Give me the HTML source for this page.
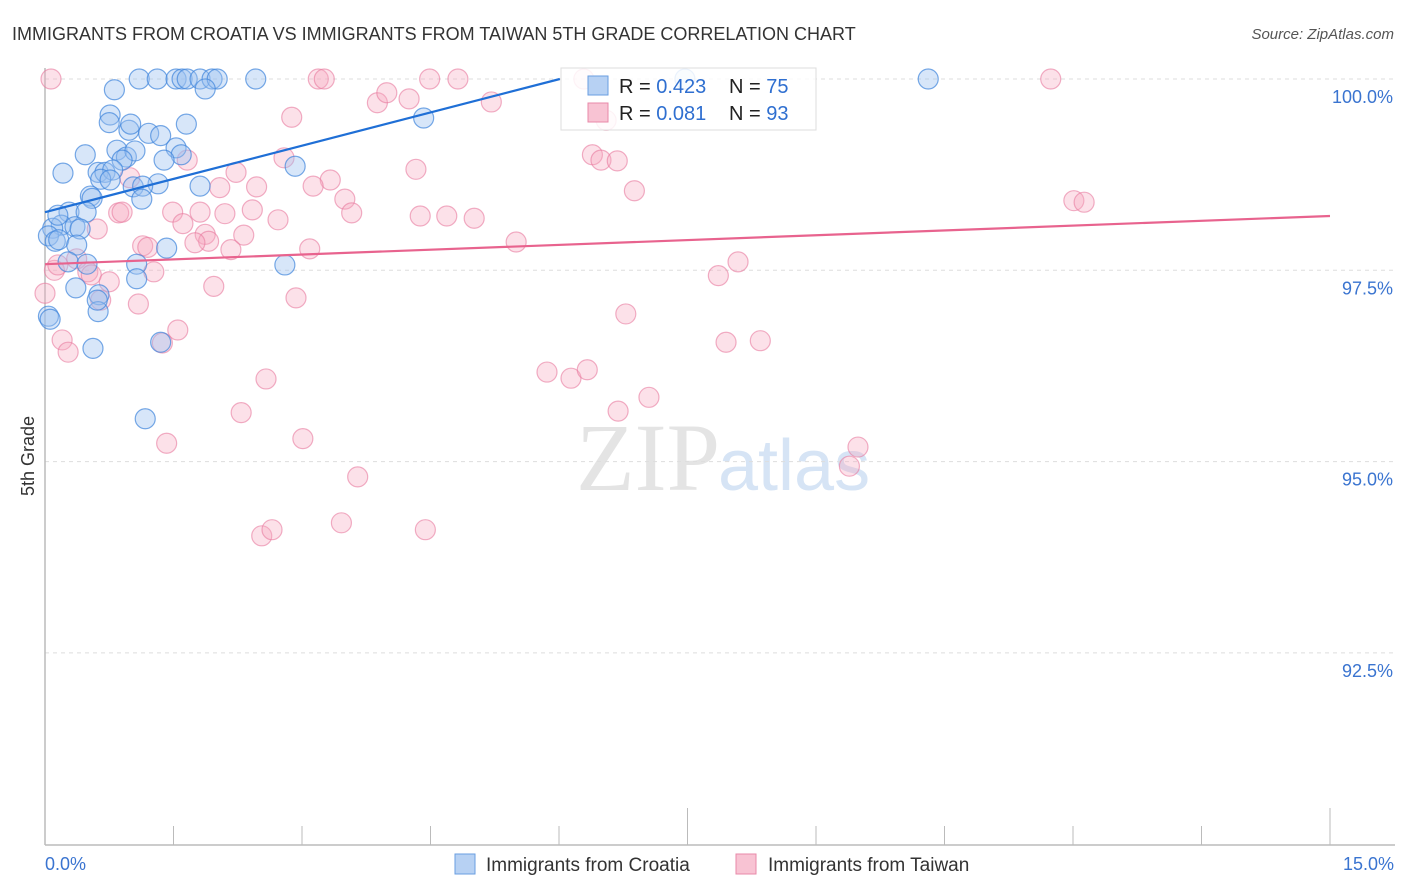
<!DOCTYPE html>
<html><head><meta charset="utf-8"><style>
body{margin:0;background:#fff;font-family:"Liberation Sans",sans-serif;}
svg{display:block}
</style></head><body>
<svg id="chart" width="1406" height="892" viewBox="0 0 1406 892">
<text x="12" y="40" font-size="18" fill="#333">IMMIGRANTS FROM CROATIA VS IMMIGRANTS FROM TAIWAN 5TH GRADE CORRELATION CHART</text>
<text x="1394" y="39" font-size="15" fill="#555" font-style="italic" text-anchor="end">Source: ZipAtlas.com</text>
<text x="720" y="490" font-size="96" fill="#e4e4e4" text-anchor="end" font-family="Liberation Serif">ZIP</text>
<text x="718" y="490" font-size="72" fill="#d6e4f5">atlas</text>
<text transform="translate(34,456) rotate(-90)" font-size="18" fill="#333" text-anchor="middle">5th Grade</text>
<g id="grid"></g><g id="axes"></g><g id="pts"></g><g id="lines"></g>
<g>
<rect x="561" y="68" width="255" height="62" fill="#fff" fill-opacity="0.85" stroke="#ddd"/>
<rect x="588" y="76" width="20" height="19" fill="#b7d1f3" stroke="#6a9ee0"/>
<rect x="588" y="103" width="20" height="19" fill="#f8c3d3" stroke="#e88aa8"/>
<text x="619" y="93" font-size="20" fill="#222">R = <tspan fill="#2f6fd0">0.423</tspan></text>
<text x="729" y="93" font-size="20" fill="#222">N = <tspan fill="#2f6fd0">75</tspan></text>
<text x="619" y="120" font-size="20" fill="#222">R = <tspan fill="#2f6fd0">0.081</tspan></text>
<text x="729" y="120" font-size="20" fill="#222">N = <tspan fill="#2f6fd0">93</tspan></text>
</g>
<g>
<rect x="455" y="854" width="20" height="20" fill="#b7d1f3" stroke="#6a9ee0"/>
<text x="486" y="871" font-size="19" fill="#333">Immigrants from Croatia</text>
<rect x="736" y="854" width="20" height="20" fill="#f8c3d3" stroke="#e88aa8"/>
<text x="768" y="871" font-size="19" fill="#333">Immigrants from Taiwan</text>
</g>
</svg>
<script>
const blueX=[1.10,1.31,1.53,1.60,1.66,1.81,1.95,2.01,2.46,7.47,10.31,0.81,1.87,0.76,0.75,0.98,1.21,1.65,1.35,1.00,0.47,0.84,0.95,1.05,1.53,1.59,1.39,0.90,2.92,4.42,0.21,0.62,0.70,0.79,0.65,0.76,1.03,1.32,1.14,1.81,0.53,0.55,1.13,0.28,0.48,0.19,0.35,0.41,0.09,0.04,0.12,0.16,0.37,0.27,0.49,1.07,2.80,1.42,1.07,0.36,0.63,0.62,0.61,0.04,0.06,0.56,1.35,1.17,0.15];
const blueY=[100,100,100,100,100,100,100,100,100,100,100,99.86,99.87,99.53,99.43,99.33,99.29,99.41,99.26,99.41,99.01,99.07,98.98,99.06,99.10,99.01,98.94,98.94,98.86,99.49,98.77,98.78,98.78,98.81,98.69,98.68,98.59,98.63,98.60,98.60,98.47,98.44,98.43,98.26,98.26,98.09,98.07,98.04,98.05,97.95,97.88,97.90,97.83,97.61,97.58,97.58,97.57,97.79,97.39,97.27,97.18,96.96,97.11,96.90,96.86,96.48,96.56,95.56,98.22];
const pinkX=[0.07,3.19,3.26,4.49,4.82,6.29,11.74,4.25,3.88,3.99,5.21,2.88,6.55,6.39,6.49,6.68,2.79,1.66,4.33,2.23,0.99,3.33,3.13,2.04,2.47,6.88,3.50,12.01,12.13,0.86,0.90,1.49,1.81,2.10,2.42,3.58,4.38,4.69,5.01,2.72,0.61,1.61,1.87,2.32,1.91,1.75,1.14,1.20,2.17,3.09,5.50,0.37,0.11,0.15,0.50,0.54,1.27,0.75,0.65,0,1.09,1.97,2.93,7.86,8.09,6.78,1.55,0.20,0.27,1.37,7.95,8.35,5.86,6.14,6.33,2.58,6.69,7.05,2.29,1.42,3.01,9.49,9.39,3.65,3.46,2.53,2.65,4.44];
const pinkY=[100,100,100,100,100,100,100,99.74,99.69,99.82,99.70,99.50,99.46,99.01,98.94,98.93,98.97,98.94,98.82,98.78,98.71,98.68,98.60,98.58,98.59,98.54,98.43,98.41,98.39,98.25,98.26,98.26,98.26,98.24,98.29,98.25,98.21,98.21,98.18,98.16,98.04,98.11,97.97,97.96,97.88,97.86,97.82,97.80,97.77,97.78,97.87,97.65,97.50,97.57,97.48,97.44,97.48,97.35,97.11,97.20,97.06,97.29,97.14,97.43,97.61,96.93,96.72,96.59,96.43,96.55,96.56,96.58,96.17,96.09,96.20,96.08,95.66,95.84,95.64,95.24,95.30,95.19,94.94,94.80,94.20,94.03,94.11,94.11];
const blueTrend=[[0,98.26],[6.01,100]];
const pinkTrend=[[0,97.58],[15,98.21]];
const yTicks=[100,97.5,95,92.5];
const yTickLabels=["100.0%","97.5%","95.0%","92.5%"];
const xTicks=[0,1.5,3,4.5,6,7.5,9,10.5,12,13.5,15];
const xLabels=["0.0%","15.0%"];
const X=v=>45+v*(1285/15);
const Y=v=>79+(100-v)*(191.3/2.5);
const NS="http://www.w3.org/2000/svg";
function mk(t,a,p){const e=document.createElementNS(NS,t);for(const k in a)e.setAttribute(k,a[k]);p.appendChild(e);return e;}
const grid=document.getElementById('grid'),axes=document.getElementById('axes'),pts=document.getElementById('pts'),lines=document.getElementById('lines');
yTicks.forEach((t,i)=>{
 const l=mk('line',{x1:45,x2:1395,y1:Y(t),y2:Y(t),stroke:'#ddd','stroke-dasharray':'4,4'},grid);
 
 
 const tx=mk('text',{x:1393,y:Y(t)+24,'font-size':18,fill:'#3a74d0','text-anchor':'end'},axes);
 tx.textContent=yTickLabels[i];
 
 
});
const ax=mk('line',{x1:45,x2:1395,y1:845,y2:845,stroke:'#bbb','stroke-width':1.5},axes);


const ay=mk('line',{x1:45,x2:45,y1:68,y2:845,stroke:'#bbb','stroke-width':1.5},axes);


xTicks.forEach((t,i)=>{
 const tall=(i===5||i===10);
 const l=mk('line',{x1:X(t),x2:X(t),y1:tall?808:826,y2:845,stroke:'#bbb'},axes);
 
 
});
const xl0=mk('text',{x:45,y:870,'font-size':18,fill:'#3a74d0'},axes);xl0.textContent=xLabels[0];


const xl1=mk('text',{x:1394,y:870,'font-size':18,fill:'#3a74d0','text-anchor':'end'},axes);xl1.textContent=xLabels[1];


pinkX.forEach((x,i)=>{
 const c=mk('circle',{cx:X(x),cy:Y(pinkY[i]),r:10,fill:'#f5a9c1','fill-opacity':0.35,stroke:'#e87a9e','stroke-opacity':0.6,'stroke-width':1.2},pts);
 
 
});
blueX.forEach((x,i)=>{
 const c=mk('circle',{cx:X(x),cy:Y(blueY[i]),r:10,fill:'#9cc0ef','fill-opacity':0.4,stroke:'#3f84dc','stroke-opacity':0.7,'stroke-width':1.2},pts);
 
 
});
const bl=mk('line',{x1:X(blueTrend[0][0]),y1:Y(blueTrend[0][1]),x2:X(blueTrend[1][0]),y2:Y(blueTrend[1][1]),stroke:'#1f6fd6','stroke-width':2.2},lines);


const pl=mk('line',{x1:X(pinkTrend[0][0]),y1:Y(pinkTrend[0][1]),x2:X(pinkTrend[1][0]),y2:Y(pinkTrend[1][1]),stroke:'#e8638e','stroke-width':2.2},lines);


</script>
</body></html>
